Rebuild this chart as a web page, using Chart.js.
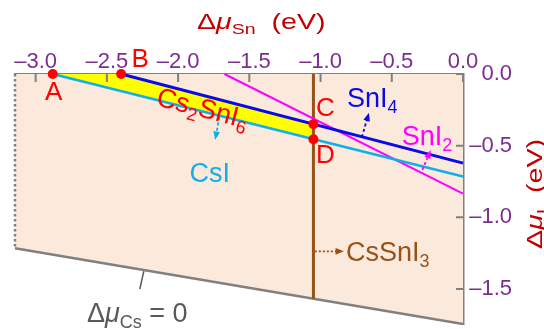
<!DOCTYPE html>
<html>
<head>
<meta charset="utf-8">
<script src="https://cdn.jsdelivr.net/npm/chart.js@4.4.0/dist/chart.umd.min.js"></script>
<style>
  html, body { margin: 0; padding: 0; background: #fff; }
  #wrap { width: 544px; height: 329px; }
</style>
</head>
<body>
<div id="wrap"><canvas id="myChart"></canvas></div>
<script>
// axis ranges and ticks (eV)
const xRange = [-3.145, 0];
const yRange = [-1.745, 0];
const xTicks = [-3.0, -2.5, -2.0, -1.5, -1.0, -0.5, 0.0];
const yTicks = [0.0, -0.5, -1.0, -1.5];

// boundary lines of the stability diagram
const csILine = [{ x: -2.88, y: 0 }, { x: 0, y: -0.715 }];
const snI4Line = [{ x: -2.40, y: 0 }, { x: 0, y: -0.622 }];
const snI2Line = [{ x: -1.675, y: 0 }, { x: 0, y: -0.835 }];
const csSnI3Line = [{ x: -1.05, y: 0 }, { x: -1.05, y: -1.568 }];
const csZeroLine = [{ x: -3.145, y: -1.217 }, { x: 0, y: -1.745 }];
const leftEdge = [{ x: -3.145, y: 0 }, { x: -3.145, y: -1.217 }];

// Cs2SnI6 stable region and corner points A, B, C, D
const pointNames = ['A', 'B', 'C', 'D'];
const cornerPoints = [
  { x: -2.88, y: 0 },
  { x: -2.40, y: 0 },
  { x: -1.05, y: -0.35 },
  { x: -1.05, y: -0.455 }
];

const FONT = '"Liberation Sans", Arial, sans-serif';
const cPeach = '#fbe9dc';
const cYellow = '#ffff00';
const cCsI = '#12aeea';
const cSnI4 = '#0a0ae6';
const cSnI2 = '#ff00ff';
const cBrown = '#975217';
const cGray = '#808080';
const cPurple = '#7b2e8f';
const cTitle = '#c00000';
const cRed = '#ff0000';

function fmt(v) {
  if (Math.abs(v) < 1e-9) return '0.0';
  return '\u2013' + Math.abs(v).toFixed(1);
}

// text with italic / subscript pieces
function richText(ctx, parts, x, y, size, align) {
  const fontOf = st => st === 's' ? Math.round(size * 0.68) + 'px ' + FONT
    : (st === 'i' ? 'italic ' + size + 'px ' + FONT : size + 'px ' + FONT);
  let w = 0;
  parts.forEach(p => { ctx.font = fontOf(p[1]); w += ctx.measureText(p[0]).width; });
  let cx = align === 'center' ? x - w / 2 : (align === 'right' ? x - w : x);
  ctx.textAlign = 'left';
  ctx.textBaseline = 'alphabetic';
  parts.forEach(p => {
    ctx.font = fontOf(p[1]);
    ctx.fillText(p[0], cx, p[1] === 's' ? y + size * 0.22 : y);
    cx += ctx.measureText(p[0]).width;
  });
}

function arrow(ctx, x1, y1, x2, y2, color, dash) {
  const ang = Math.atan2(y2 - y1, x2 - x1);
  const head = 9;
  ctx.save();
  ctx.strokeStyle = color;
  ctx.fillStyle = color;
  ctx.lineWidth = 1.8;
  ctx.setLineDash(dash);
  ctx.beginPath();
  ctx.moveTo(x1, y1);
  ctx.lineTo(x2 - head * 0.8 * Math.cos(ang), y2 - head * 0.8 * Math.sin(ang));
  ctx.stroke();
  ctx.setLineDash([]);
  ctx.beginPath();
  ctx.moveTo(x2, y2);
  ctx.lineTo(x2 - head * Math.cos(ang - 0.38), y2 - head * Math.sin(ang - 0.38));
  ctx.lineTo(x2 - head * Math.cos(ang + 0.38), y2 - head * Math.sin(ang + 0.38));
  ctx.closePath();
  ctx.fill();
  ctx.restore();
}

const arrowsList = [
  { from: [-1.71, -0.30], to: [-1.74, -0.46], color: cCsI, dash: [3, 2.5] },
  { from: [-0.71, -0.44], to: [-0.66, -0.27], color: cSnI4, dash: [3, 2.5] },
  { from: [-0.285, -0.67], to: [-0.227, -0.53], color: cSnI2, dash: [3, 2.5] },
  { from: [-1.04, -1.238], to: [-0.836, -1.238], color: cBrown, dash: [2, 2] }
];

const labelsList = [
  { at: [-1.92, -0.752], color: cCsI, parts: [['CsI', 'n']] },
  { at: [-0.815, -0.232], color: cSnI4, parts: [['SnI', 'n'], ['4', 's']] },
  { at: [-0.43, -0.495], color: cSnI2, parts: [['SnI', 'n'], ['2', 's']] },
  { at: [-0.822, -1.308], color: cBrown, parts: [['CsSnI', 'n'], ['3', 's']] },
  { at: [-2.64, -1.73], color: '#595959', parts: [['\u0394', 'n'], ['\u03bc', 'i'], ['Cs', 's'], [' = 0', 'n']] }
];

const pointOffsets = [[1, 19], [19, -14], [12, -15], [12, 17]];

const annotations = {
  id: 'annotations',
  afterDatasetsDraw(chart) {
    const ctx = chart.ctx;
    const sx = chart.scales.x;
    const sy = chart.scales.y;
    const area = chart.chartArea;
    const X = v => sx.getPixelForValue(v);
    const Y = v => sy.getPixelForValue(v);

    // inward tick marks
    ctx.save();
    ctx.strokeStyle = cGray;
    ctx.lineWidth = 2;
    ctx.beginPath();
    xTicks.forEach(v => { ctx.moveTo(X(v), area.top); ctx.lineTo(X(v), area.top + 8); });
    yTicks.forEach(v => { ctx.moveTo(area.right - 7, Y(v)); ctx.lineTo(area.right, Y(v)); });
    ctx.stroke();

    // leader line for the Cs = 0 boundary
    ctx.strokeStyle = '#595959';
    ctx.lineWidth = 1.5;
    ctx.beginPath();
    ctx.moveTo(X(-2.241), Y(-1.377));
    ctx.lineTo(X(-2.269), Y(-1.502));
    ctx.stroke();

    arrowsList.forEach(a => arrow(ctx, X(a.from[0]), Y(a.from[1]), X(a.to[0]), Y(a.to[1]), a.color, a.dash));

    labelsList.forEach(l => {
      ctx.fillStyle = l.color;
      richText(ctx, l.parts, X(l.at[0]), Y(l.at[1]), 27, 'left');
    });

    // rotated Cs2SnI6 label along the yellow band
    ctx.save();
    ctx.translate(X(-1.822), Y(-0.217));
    ctx.rotate(Math.atan(0.261));
    ctx.fillStyle = cRed;
    richText(ctx, [['Cs', 'n'], ['2', 's'], ['SnI', 'n'], ['6', 's']], 0, 12, 27, 'center');
    ctx.restore();

    // corner point letters
    ctx.fillStyle = cRed;
    ctx.font = '26px ' + FONT;
    ctx.textAlign = 'center';
    ctx.textBaseline = 'middle';
    cornerPoints.forEach((p, i) => {
      ctx.fillText(pointNames[i], X(p.x) + pointOffsets[i][0], Y(p.y) + pointOffsets[i][1]);
    });

    // axis titles (the original glyphs are drawn wide)
    ctx.fillStyle = cTitle;
    ctx.save();
    ctx.translate(197, 29);
    ctx.scale(1.3, 1);
    richText(ctx, [['\u0394', 'n'], ['\u03bc', 'i'], ['Sn', 's'], ['  (eV)', 'n']], 0, 0, 22, 'left');
    ctx.restore();
    ctx.save();
    ctx.translate(542, 194);
    ctx.rotate(-Math.PI / 2);
    ctx.scale(1.3, 1);
    richText(ctx, [['\u0394', 'n'], ['\u03bc', 'i'], ['I', 's'], ['  (eV)', 'n']], 0, 0, 22, 'center');
    ctx.restore();
    ctx.restore();
  }
};

const lineBase = { type: 'line', pointRadius: 0, tension: 0, clip: false, fill: false };

new Chart(document.getElementById('myChart'), {
  type: 'line',
  data: {
    datasets: [
      { type: 'line', data: cornerPoints, showLine: false, pointRadius: 5, pointBackgroundColor: cRed,
        pointBorderWidth: 0, clip: false, order: 0 },
      Object.assign({}, lineBase, { data: snI4Line, borderColor: cSnI4, borderWidth: 3, order: 1 }),
      Object.assign({}, lineBase, { data: csILine, borderColor: cCsI, borderWidth: 2.5, order: 2 }),
      Object.assign({}, lineBase, { data: snI2Line, borderColor: cSnI2, borderWidth: 2, order: 3 }),
      Object.assign({}, lineBase, { data: csSnI3Line, borderColor: cBrown, borderWidth: 3, order: 4 }),
      Object.assign({}, lineBase, { data: leftEdge, borderColor: cGray, borderWidth: 2.5, borderDash: [2.5, 2.5], order: 5 }),
      Object.assign({}, lineBase, { data: cornerPoints, borderWidth: 0, borderColor: 'rgba(0,0,0,0)',
        backgroundColor: cYellow, fill: 'shape', order: 6 }),
      Object.assign({}, lineBase, { data: csZeroLine, borderColor: cGray, borderWidth: 2.5,
        backgroundColor: cPeach, fill: 'end', order: 7 })
    ]
  },
  options: {
    responsive: true,
    maintainAspectRatio: false,
    animation: false,
    layout: { padding: { left: 15, right: 32, top: 0, bottom: 4 } },
    plugins: { legend: { display: false }, tooltip: { enabled: false } },
    scales: {
      x: {
        type: 'linear',
        position: 'top',
        min: xRange[0],
        max: xRange[1],
        afterBuildTicks: s => { s.ticks = xTicks.map(v => ({ value: v })); },
        afterFit: s => { s.height = 74; },
        grid: { display: false, drawTicks: false },
        border: { display: true, color: cGray, width: 2.5 },
        ticks: { color: cPurple, font: { family: FONT, size: 22 }, padding: -1, maxRotation: 0, autoSkip: false,
          callback: v => fmt(v) }
      },
      y: {
        type: 'linear',
        position: 'right',
        min: yRange[0],
        max: yRange[1],
        afterBuildTicks: s => { s.ticks = yTicks.map(v => ({ value: v })); },
        afterFit: s => { s.width = 49; s.paddingTop = 0; s.paddingBottom = 0; },
        grid: { display: false, drawTicks: false },
        border: { display: true, color: cGray, width: 2.5 },
        ticks: { color: cPurple, font: { family: FONT, size: 22 }, padding: 5, crossAlign: 'far', autoSkip: false,
          callback: v => fmt(v) }
      }
    }
  },
  plugins: [annotations]
});
</script>
</body>
</html>
